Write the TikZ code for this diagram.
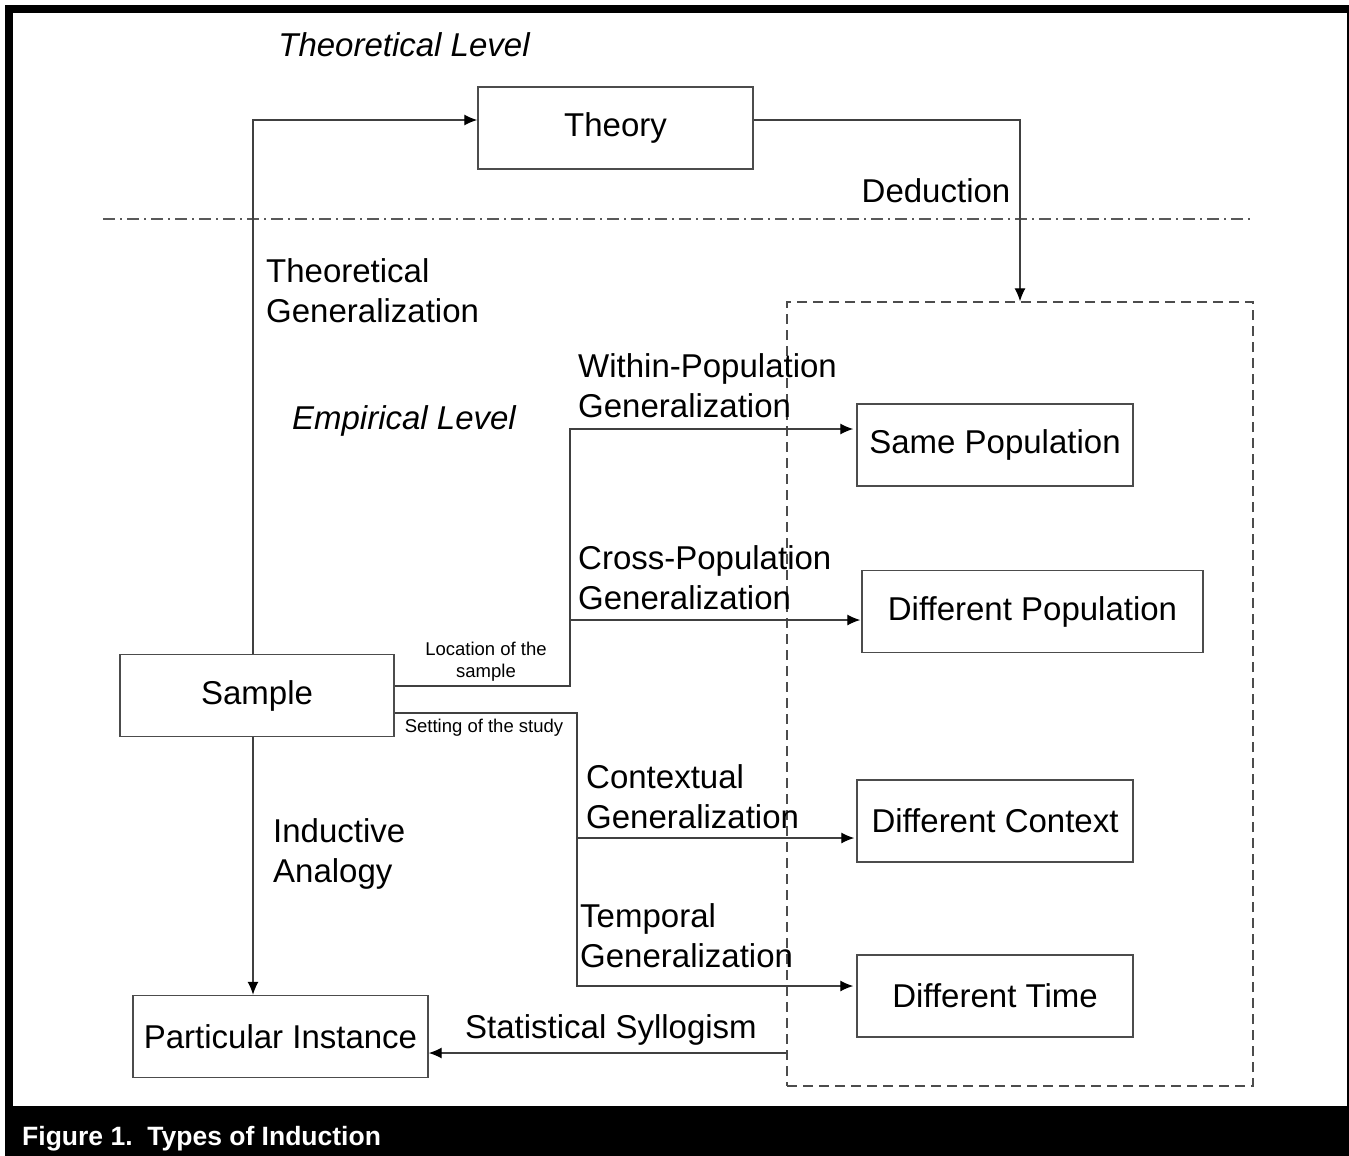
\documentclass[tikz,border=0pt]{standalone}
\usepackage{fontspec}
\setmainfont{Liberation Sans}
\usetikzlibrary{arrows.meta}

\begin{document}
\begin{tikzpicture}[x=1pt, y=-1pt,
    box/.style={draw=black!70, line width=1.4pt, rectangle, minimum height=82pt,
        inner sep=0pt, font=\fontsize{33}{40}\selectfont},
    lbl/.style={inner sep=0pt, align=left, font=\fontsize{33}{40}\selectfont},
    smalllbl/.style={inner sep=0pt, align=center, font=\fontsize{18.5}{22}\selectfont},
    conn/.style={draw=black!75, line width=1.3pt,
        -{Latex[length=13pt,width=11pt,black]}}]
    \useasboundingbox (0,0) rectangle (1349,1156);

    % 1. Frame and caption bar
    \fill[white] (0,0) rectangle (1349,1156);
    \fill[black] (5,5) rectangle (1349,1156);
    \fill[white] (13,13) rectangle (1347,1106);
    \node[anchor=west, inner sep=0pt, text=white,
        font=\bfseries\fontsize{26.5}{30}\selectfont] (caption) at (22,1139)
        {Figure 1.\ \ Types of Induction};

    % 2. Level separator and level names
    \draw[draw=black!65, line width=1.3pt,
        dash pattern=on 12pt off 5pt on 2pt off 5pt] (103,219) -- (1253,219);
    \node[lbl, font=\itshape\fontsize{33}{40}\selectfont] (theolevel) at (404,45) {Theoretical Level};
    \node[lbl, font=\itshape\fontsize{33}{40}\selectfont] (emplevel) at (404,421) {Empirical Level};

    % 3. Target region
    \node[draw=black!70, line width=1.4pt, dash pattern=on 10pt off 6pt,
        minimum width=466pt, minimum height=784pt, inner sep=0pt] (target) at (1020,694) {};

    % 4. Boxes
    \node[box, minimum width=275pt] (theory) at (615.5,128) {Theory};
    \node[box, minimum width=274pt] (sample) at (257,695.5) {Sample};
    \node[box, minimum width=295pt] (instance) at (280.5,1036.5) {Particular Instance};
    \node[box, minimum width=276pt] (samepop) at (995,445) {Same Population};
    \node[box, minimum width=341pt] (diffpop) at (1032.5,611.5) {Different Population};
    \node[box, minimum width=276pt] (diffctx) at (995,821) {Different Context};
    \node[box, minimum width=276pt] (difftime) at (995,996) {Different Time};

    % 5. Labels
    \node[lbl] (deduction) at (936,191) {Deduction};
    \node[lbl, anchor=west] (theogen) at (266,291) {Theoretical\\Generalization};
    \node[lbl, anchor=west] (withingen) at (578,386) {Within-Population\\Generalization};
    \node[lbl, anchor=west] (crossgen) at (578,578) {Cross-Population\\Generalization};
    \node[lbl, anchor=west] (ctxgen) at (586,797) {Contextual\\Generalization};
    \node[lbl, anchor=west] (tempgen) at (580,936) {Temporal\\Generalization};
    \node[lbl, anchor=west] (analogy) at (273,854) {Inductive\\Analogy};
    \node[lbl] (syllogism) at (611,1030) {Statistical Syllogism};
    \node[smalllbl] (location) at (486,662) {Location of the\\sample};
    \node[smalllbl] (setting) at (484,728) {Setting of the study};

    % 6. Connectors
    \coordinate (locx) at (570,686);
    \coordinate (setx) at (577,713);
    \draw[conn] ([xshift=-4pt]sample.north) |- ([yshift=8pt]theory.west);
    \draw[conn] ([yshift=8pt]theory.east) -| (target.north);
    \draw[conn, shorten >=3pt] ([yshift=9.5pt]sample.east) -- (locx)
        |- ([yshift=16pt]samepop.west);
    \draw[conn, shorten >=1pt] (locx |- 0,620) -- ([yshift=-8.5pt]diffpop.west);
    \draw[conn, shorten >=3pt] ([yshift=-17.5pt]sample.east) -- (setx)
        |- ([yshift=10pt]difftime.west);
    \draw[conn, shorten >=2pt] (setx |- 0,838) -- ([yshift=-17pt]diffctx.west);
    \draw[conn] ([xshift=-4pt]sample.south) -- ([xshift=-4pt]sample.south |- instance.north);
    \draw[conn] (target.west |- 0,1053) -- ([yshift=-16.5pt]instance.east);
\end{tikzpicture}
\end{document}
